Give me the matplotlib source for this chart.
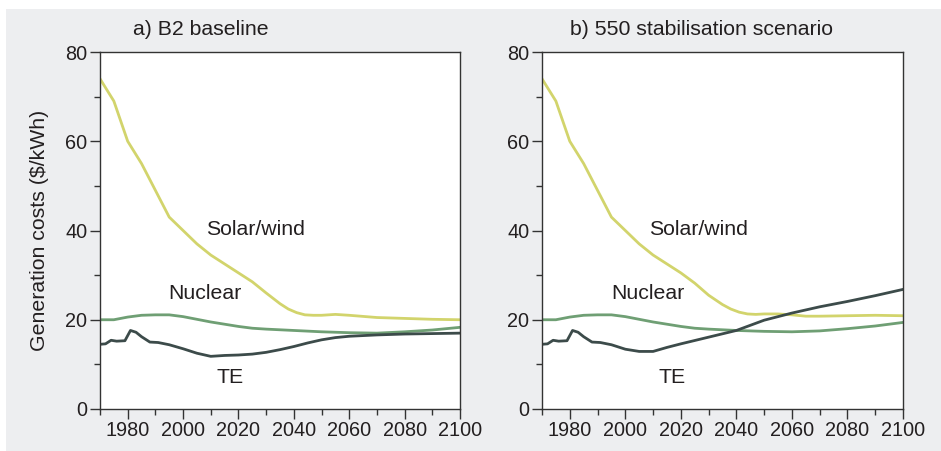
import matplotlib
matplotlib.use("Agg")
import matplotlib.pyplot as plt
from matplotlib.patches import Rectangle
from matplotlib.ticker import MultipleLocator

plt.rcParams['font.family'] = ['Liberation Sans', 'DejaVu Sans']

# ---- data ----
solar_years_a = [1970, 1975, 1980, 1985, 1990, 1995, 2000, 2005, 2010, 2015, 2020, 2025,
                 2030, 2035, 2038, 2041, 2044, 2047, 2050, 2055, 2060, 2070, 2080, 2090, 2100]
solar_a = [74, 69, 60, 55, 49, 43, 40, 37, 34.5, 32.5, 30.5, 28.5,
           26, 23.6, 22.4, 21.6, 21.1, 21.0, 21.0, 21.2, 21.0, 20.5, 20.3, 20.1, 20.0]
solar_years_b = [1970, 1975, 1980, 1985, 1990, 1995, 2000, 2005, 2010, 2015, 2020, 2025,
                 2030, 2035, 2038, 2041, 2044, 2047, 2050, 2055, 2060, 2065, 2070, 2080, 2090, 2100]
solar_b = [74, 69, 60, 55, 49, 43, 40, 37, 34.5, 32.5, 30.5, 28.2,
           25.5, 23.4, 22.4, 21.7, 21.3, 21.2, 21.3, 21.3, 21.1, 20.8, 20.8, 20.9, 21.0, 20.9]

nuc_years = [1970, 1975, 1980, 1985, 1990, 1995, 2000, 2010, 2020, 2025, 2030, 2040,
             2050, 2060, 2070, 2080, 2090, 2100]
nuc_a = [20.0, 20.0, 20.6, 21.0, 21.1, 21.1, 20.7, 19.5, 18.5, 18.1, 17.9, 17.6,
         17.3, 17.1, 17.0, 17.3, 17.7, 18.3]
nuc_b = [20.0, 20.0, 20.6, 21.0, 21.1, 21.1, 20.7, 19.5, 18.5, 18.1, 17.9, 17.6,
         17.4, 17.3, 17.5, 18.0, 18.6, 19.4]

te_years_a = [1970, 1972, 1974, 1976, 1979, 1981, 1983, 1985, 1988, 1991, 1995, 2000,
              2005, 2010, 2015, 2020, 2025, 2030, 2035, 2040, 2045, 2050, 2055, 2060,
              2070, 2080, 2090, 2100]
te_a = [14.5, 14.6, 15.4, 15.2, 15.3, 17.6, 17.2, 16.2, 15.0, 14.9, 14.4, 13.5,
        12.5, 11.8, 12.0, 12.1, 12.3, 12.7, 13.3, 14.0, 14.8, 15.5, 16.0, 16.3,
        16.6, 16.8, 16.9, 17.0]
te_years_b = [1970, 1972, 1974, 1976, 1979, 1981, 1983, 1985, 1988, 1991, 1995, 2000,
              2005, 2010, 2015, 2020, 2030, 2040, 2050, 2060, 2070, 2080, 2090, 2100]
te_b = [14.5, 14.6, 15.4, 15.2, 15.3, 17.6, 17.2, 16.2, 15.0, 14.9, 14.4, 13.4,
        12.9, 12.9, 13.8, 14.6, 16.1, 17.6, 19.9, 21.5, 22.9, 24.1, 25.4, 26.8]

panel_titles = ["a) B2 baseline", "b) 550 stabilisation scenario"]
series_labels = ["Solar/wind", "Nuclear", "TE"]

# ---- style ----
c_solar = "#D2D46C"
c_nuc = "#6F9F74"
c_te = "#3C4B4A"
bg = "#EDEEF0"
txt = "#231f20"

fig = plt.figure(figsize=(9.41, 4.51), dpi=100)
fig.patch.set_facecolor("white")
fig.patches.append(Rectangle((6 / 941, 0), 935 / 941, 442 / 451, transform=fig.transFigure,
                             facecolor=bg, edgecolor="none", zorder=-10))

ax_a = fig.add_axes([100 / 941, 42 / 451, 360 / 941, 357 / 451])
ax_b = fig.add_axes([542 / 941, 42 / 451, 361 / 941, 357 / 451])

datasets = [
    (ax_a, solar_years_a, solar_a, nuc_years, nuc_a, te_years_a, te_a),
    (ax_b, solar_years_b, solar_b, nuc_years, nuc_b, te_years_b, te_b),
]

for ax, sy, sv, ny, nv, ty, tv in datasets:
    ax.set_facecolor("white")
    ax.plot(sy, sv, color=c_solar, lw=2.0, solid_joinstyle="round")
    ax.plot(ny, nv, color=c_nuc, lw=2.0, solid_joinstyle="round")
    ax.plot(ty, tv, color=c_te, lw=2.0, solid_joinstyle="round")
    ax.set_xlim(1970, 2100)
    ax.set_ylim(0, 80)
    ax.set_xticks([1980, 2000, 2020, 2040, 2060, 2080, 2100])
    ax.set_yticks([0, 20, 40, 60, 80])
    ax.xaxis.set_minor_locator(MultipleLocator(10))
    ax.yaxis.set_minor_locator(MultipleLocator(10))
    ax.tick_params(which="both", direction="out", top=False, right=False,
                   labelsize=14.3, labelcolor=txt, color="#333333", width=1.0)
    ax.tick_params(which="major", length=7, pad=2)
    ax.tick_params(which="minor", length=4)
    for s in ax.spines.values():
        s.set_color("#333333")
        s.set_linewidth(1.0)
    ax.text(2026.3, 40.3, series_labels[0], fontsize=15.3, ha="center", va="center", color=txt)
    ax.text(2008, 25.8, series_labels[1], fontsize=15.3, ha="center", va="center", color=txt)
    ax.text(2017, 7.0, series_labels[2], fontsize=15.3, ha="center", va="center", color=txt)

ax_a.text(33 / 360, 1.064, panel_titles[0], transform=ax_a.transAxes, fontsize=15.3,
          ha="left", va="center", color=txt)
ax_b.text(28 / 361, 1.064, panel_titles[1], transform=ax_b.transAxes, fontsize=15.3,
          ha="left", va="center", color=txt)
ax_a.set_ylabel("Generation costs ($/kWh)", fontsize=15.3, color=txt, labelpad=12)

fig.savefig("out.png", dpi=100, facecolor=fig.get_facecolor())
